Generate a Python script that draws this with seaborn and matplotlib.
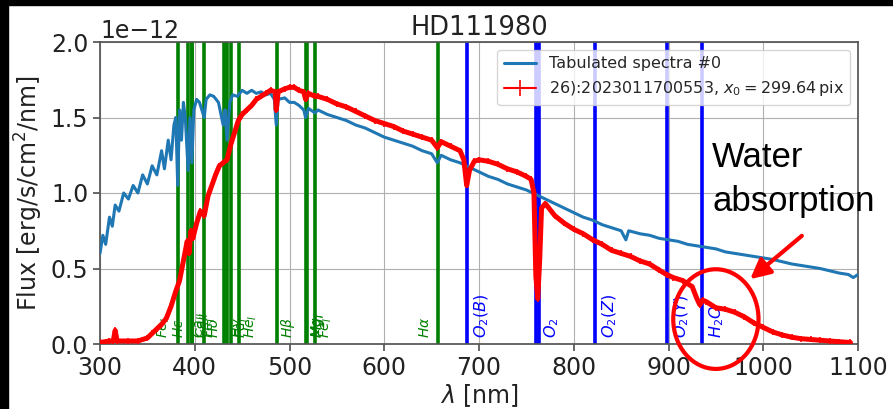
import matplotlib
matplotlib.use("Agg")
import matplotlib.pyplot as plt
from matplotlib.lines import Line2D
import seaborn as sns
import pandas as pd
from matplotlib.patches import Ellipse, Rectangle

# ---------------- data ----------------
flux_unit = 1e-12

tab_wl = [300, 303, 306, 310, 313, 316, 320, 325, 330, 335, 340, 345, 350, 355, 360, 365, 368, 372,
          375, 378, 380, 382, 384, 386, 388, 390, 393, 395, 397, 399, 402, 405, 410, 412, 416, 420,
          425, 430, 432, 434, 437, 440, 445, 450, 455, 460, 465, 470, 475, 480, 484, 486, 488, 495,
          500, 505, 510, 515, 517, 520, 527, 530, 540, 550, 560, 570, 580, 590, 600, 610, 620, 630,
          640, 650, 656, 660, 670, 680, 690, 700, 710, 720, 730, 740, 750, 760, 770, 780, 790, 800,
          810, 820, 830, 840, 850, 855, 858, 870, 880, 890, 900, 910, 920, 930, 940, 950, 960, 970,
          980, 990, 1000, 1010, 1020, 1030, 1040, 1050, 1060, 1070, 1080, 1090, 1095, 1100]
tab_flux = [0.60, 0.72, 0.66, 0.84, 0.78, 0.92, 0.88, 1.00, 0.96, 1.05, 1.00, 1.12, 1.06, 1.18, 1.12,
            1.28, 1.16, 1.35, 1.22, 1.45, 1.50, 1.05, 1.55, 1.35, 1.60, 1.50, 1.15, 1.50, 1.20, 1.55,
            1.62, 1.60, 1.50, 1.62, 1.65, 1.64, 1.60, 1.45, 1.55, 1.35, 1.60, 1.65, 1.64, 1.68, 1.66,
            1.68, 1.66, 1.67, 1.65, 1.66, 1.62, 1.45, 1.62, 1.63, 1.60, 1.60, 1.58, 1.55, 1.50, 1.56,
            1.53, 1.55, 1.52, 1.50, 1.48, 1.45, 1.43, 1.40, 1.37, 1.35, 1.33, 1.31, 1.28, 1.26, 1.20,
            1.25, 1.22, 1.20, 1.17, 1.14, 1.11, 1.09, 1.06, 1.04, 1.02, 0.99, 0.96, 0.93, 0.90, 0.87,
            0.84, 0.82, 0.79, 0.77, 0.75, 0.69, 0.75, 0.73, 0.72, 0.70, 0.69, 0.68, 0.66, 0.65, 0.64,
            0.63, 0.61, 0.60, 0.59, 0.58, 0.57, 0.56, 0.545, 0.53, 0.52, 0.51, 0.50, 0.485, 0.47,
            0.46, 0.44, 0.46]

obs_wl = [300, 310, 314, 316, 318, 330, 340, 350, 355, 360, 365, 370, 375, 380, 384, 388, 392, 394,
          396, 398, 402, 406, 410, 414, 418, 422, 426, 430, 434, 438, 442, 446, 450, 455, 460, 465,
          470, 475, 480, 485, 486, 488, 495, 500, 505, 510, 515, 517, 520, 527, 530, 540, 550, 560,
          570, 580, 590, 600, 610, 620, 630, 640, 650, 656, 660, 670, 680, 684, 687, 690, 695, 700,
          710, 720, 730, 740, 750, 755, 758, 760, 762, 764, 766, 770, 780, 790, 800, 810, 820, 830,
          840, 850, 860, 870, 880, 890, 898, 905, 915, 925, 930, 933, 936, 940, 950, 960, 970, 980,
          990, 1000, 1010, 1020, 1030, 1040, 1050, 1060, 1070, 1080, 1092]
obs_flux = [0.01, 0.02, 0.02, 0.09, 0.02, 0.02, 0.02, 0.04, 0.07, 0.10, 0.13, 0.17, 0.25, 0.35, 0.42,
            0.55, 0.68, 0.60, 0.75, 0.70, 0.80, 0.88, 0.85, 0.98, 1.05, 1.12, 1.18, 1.20, 1.22, 1.32,
            1.40, 1.48, 1.52, 1.55, 1.58, 1.62, 1.64, 1.66, 1.68, 1.67, 1.55, 1.67, 1.69, 1.70, 1.70,
            1.68, 1.67, 1.62, 1.66, 1.64, 1.64, 1.62, 1.59, 1.57, 1.54, 1.51, 1.48, 1.46, 1.44, 1.41,
            1.39, 1.37, 1.35, 1.30, 1.34, 1.31, 1.28, 1.22, 1.05, 1.15, 1.21, 1.22, 1.21, 1.19, 1.16,
            1.14, 1.11, 1.09, 1.00, 0.45, 0.30, 0.55, 0.90, 0.93, 0.85, 0.80, 0.76, 0.73, 0.69, 0.66,
            0.62, 0.60, 0.58, 0.55, 0.53, 0.49, 0.46, 0.44, 0.42, 0.38, 0.30, 0.26, 0.29, 0.28, 0.24,
            0.23, 0.21, 0.18, 0.14, 0.11, 0.08, 0.06, 0.045, 0.035, 0.03, 0.025, 0.02, 0.015, 0.01]
obs_err = 0.02

stellar_lines = [382.04, 393.37, 396.85, 397.0, 410.2, 430.79, 434.0, 438.35, 447.1,
                 486.3, 517.27, 518.36, 527.04, 656.3]
stellar_labels = [r'$Fe_I$', r'$Ca_{II}$', r'$Ca_{II}$', r'$H\epsilon$', r'$H\delta$', r'$Fe_I$',
                  r'$H\gamma$', r'$Fe_I$', r'$He_I$', r'$H\beta$', r'$Mg_I$', r'$Mg_I$', r'$Fe_I$',
                  r'$H\alpha$']
stellar_label_side = [-1, 1, 1, -1, 1, -1, 1, 1, 1, 1, 1, 1, 1, -1]

atmo_lines = [687.47, 760.3, 763.1, 822.7, 898.77, 935.0]
atmo_labels = [r'$O_2(B)$', r'$O_2$', '', r'$O_2(Z)$', r'$O_2(Y)$', r'$H_2O$']

title = "HD111980"
legend_tab = "Tabulated spectra #0"
legend_obs = r"26):2023011700553, $x_0 = 299.64\,$pix"

# ---------------- style ----------------
sns.set_theme(style="ticks", rc={"axes.grid": True, "grid.color": "#b0b0b0",
                                 "grid.linewidth": 0.8, "axes.edgecolor": "#555555",
                                 "xtick.color": "#555555", "ytick.color": "#555555"})
plt.rcParams['font.family'] = ['DejaVu Sans']

W, H = 893, 409
fig = plt.figure(figsize=(W / 100, H / 100), dpi=100)
fig.patch.set_facecolor("white")
ax = fig.add_axes([100 / W, 1 - 344 / H, 758 / W, 302 / H])

tab_df = pd.DataFrame({"wl": tab_wl, "flux": [v * flux_unit for v in tab_flux]})
sns.lineplot(data=tab_df, x="wl", y="flux", ax=ax, color="#1f77b4", lw=2.2,
             estimator=None, sort=False, label=legend_tab, zorder=3)

ax.errorbar(obs_wl, [v * flux_unit for v in obs_flux], yerr=obs_err * flux_unit,
            color="red", lw=3.6, elinewidth=1.2, capsize=0, label=legend_obs, zorder=4)

for wl, lab, side in zip(stellar_lines, stellar_labels, stellar_label_side):
    ax.axvline(wl, color="green", lw=2.6, zorder=2)
    if side > 0:
        ax.text(wl + 3, 0.02, lab, rotation=90, color="green", fontsize=10,
                transform=ax.get_xaxis_transform(), ha="left", va="bottom")
    else:
        ax.text(wl - 6, 0.02, lab, rotation=90, color="green", fontsize=10,
                transform=ax.get_xaxis_transform(), ha="right", va="bottom")

for wl, lab in zip(atmo_lines, atmo_labels):
    ax.axvline(wl, color="blue", lw=2.6, zorder=2)
    if lab:
        ax.text(wl + 6, 0.02, lab, rotation=90, color="blue", fontsize=11.5,
                transform=ax.get_xaxis_transform(), ha="left", va="bottom")

ax.set_xlim(300, 1100)
ax.set_ylim(0, 2.0e-12)
ax.set_xticks([300, 400, 500, 600, 700, 800, 900, 1000, 1100])
ax.tick_params(labelsize=17, labelcolor="#222222", length=5)
ax.yaxis.get_offset_text().set_fontsize(17)
ax.set_title(title, fontsize=18.5, color="#222222", pad=5)
ax.set_xlabel(r"$\lambda$ [nm]", fontsize=17, color="#222222", labelpad=2)
ax.set_ylabel(r"Flux [erg/s/cm$^2$/nm]", fontsize=17, color="#222222", labelpad=4)
leg = ax.legend(loc="upper right", fontsize=11.5, framealpha=0.8)
for ln in leg.findobj(Line2D):
    if ln.get_color() == "red":
        ln.set_linewidth(1.5)

# annotation: water absorption
circ = Ellipse((950, 0.165e-12), 90, 0.66e-12, fill=False, edgecolor="red", lw=3,
               clip_on=False, zorder=6)
ax.add_patch(circ)
fig.text(712 / W, 1 - 167 / H, "Water", fontsize=25, family="Liberation Sans",
         color="black", ha="left", va="baseline")
fig.text(712 / W, 1 - 211 / H, "absorption", fontsize=25, family="Liberation Sans",
         color="black", ha="left", va="baseline")
ax.annotate("", xy=(748 / W, 1 - 281 / H), xytext=(804 / W, 1 - 234 / H),
            xycoords="figure fraction", textcoords="figure fraction",
            arrowprops=dict(arrowstyle="-|>,head_length=1.0,head_width=0.5",
                            color="red", lw=3), zorder=7)

# black screen borders
fig.add_artist(Rectangle((0, 1 - 5 / H), 1, 5 / H, transform=fig.transFigure,
                         color="black", zorder=20))
fig.add_artist(Rectangle((0, 0), 8 / W, 1, transform=fig.transFigure,
                         color="black", zorder=20))

fig.savefig("out.png", dpi=100)
